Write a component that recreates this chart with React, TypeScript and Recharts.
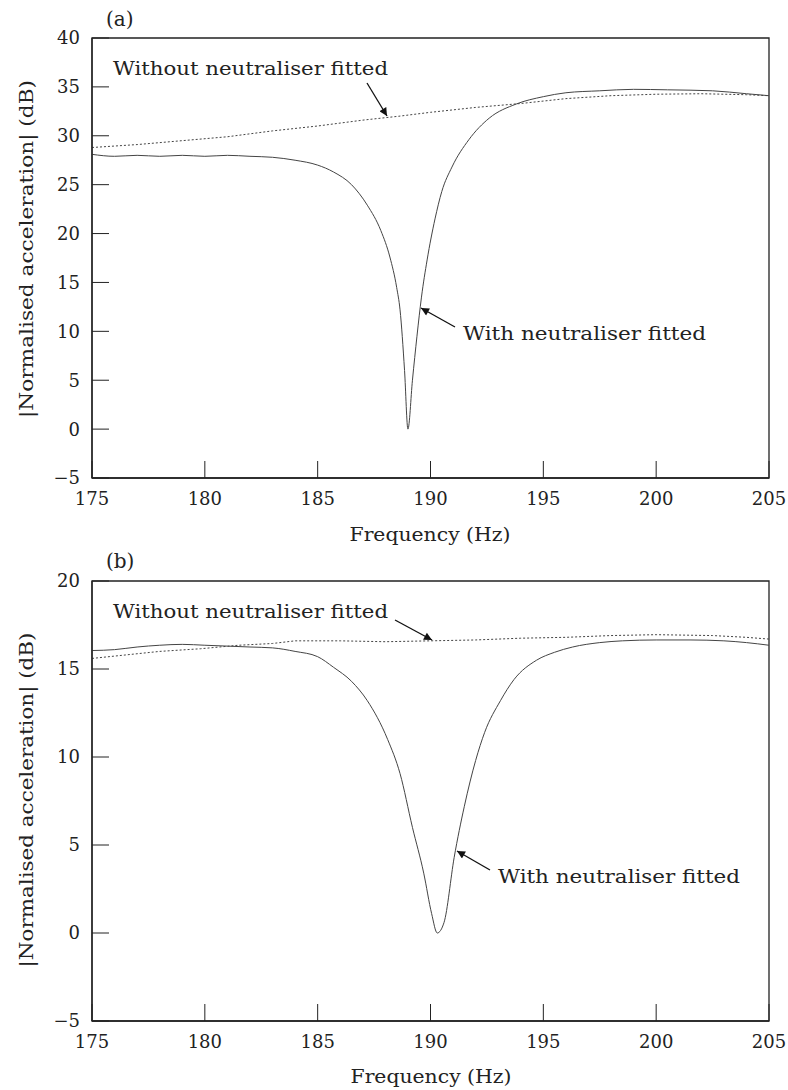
import React from "react";
import { LineChart, Line, XAxis, YAxis, ReferenceArea } from "recharts";

// panel (a) – frequency (Hz) / level (dB)
const withFreqA = [175, 176, 177, 178, 179, 180, 181, 182, 183, 184, 185, 185.7, 186.5, 187.2, 187.8, 188.2, 188.5, 188.65, 188.85, 189.0, 189.2, 189.4, 189.6, 189.85, 190.2, 190.5, 190.95, 191.7, 192.6, 193.8, 195, 196, 197.5, 199, 200.5, 202.5, 204, 205];
const withLevelA = [28.1, 27.9, 28.0, 27.9, 28.0, 27.9, 28.0, 27.9, 27.8, 27.5, 27.0, 26.3, 25.0, 22.9, 20.3, 17.6, 14.5, 12.2, 6.0, 0.0, 5.0, 9.5, 13.5, 17.3, 21.5, 24.3, 26.8, 29.6, 31.8, 33.25, 34.0, 34.4, 34.6, 34.75, 34.7, 34.6, 34.3, 34.1];
const withoutFreqA = [175, 177, 179, 181, 183, 185, 187, 188.6, 190, 192, 194, 196, 198, 200, 202, 204, 205];
const withoutLevelA = [28.8, 29.1, 29.5, 29.9, 30.5, 31.0, 31.6, 32.0, 32.4, 32.9, 33.3, 33.8, 34.1, 34.25, 34.3, 34.2, 34.1];

// panel (b)
const withFreqB = [175, 176, 177, 178, 179, 180, 181, 182, 183, 184, 185, 185.7, 186.5, 187.2, 188.1, 188.65, 189.2, 189.7, 190.05, 190.3, 190.6, 191.05, 191.5, 192.0, 192.4, 193.1, 193.7, 194.7, 195.5, 196.3, 197.5, 198.5, 200, 201.5, 203, 204, 205];
const withLevelB = [16.05, 16.1, 16.25, 16.35, 16.4, 16.35, 16.3, 16.25, 16.2, 16.0, 15.7, 15.1, 14.3, 13.2, 11.0, 9.06, 6.0, 3.4, 1.1, 0.0, 0.6, 4.3, 7.2, 9.8, 11.4, 13.2, 14.4, 15.5, 15.95, 16.25, 16.5, 16.6, 16.65, 16.65, 16.6, 16.5, 16.35];
const withoutFreqB = [175, 176.5, 178, 179.8, 181.5, 183, 184, 186, 188, 190, 192, 194, 196, 198, 200, 202.5, 204, 205];
const withoutLevelB = [15.6, 15.8, 16.0, 16.15, 16.35, 16.45, 16.6, 16.6, 16.55, 16.6, 16.65, 16.75, 16.8, 16.9, 16.95, 16.9, 16.8, 16.7];

const freqTicks = [175, 180, 185, 190, 195, 200, 205];
const levelTicksA = [-5, 0, 5, 10, 15, 20, 25, 30, 35, 40];
const levelTicksB = [-5, 0, 5, 10, 15, 20];

const toPoints = (freq: number[], level: number[]) =>
    freq.map((f, i) => ({ f, v: level[i] }));

const FONT = "DejaVu Serif";
const INK = "#222";
const CURVE = "#444";

const minus = (v: number) => String(v).replace("-", "\u2212");

interface PanelProps {
    withPts: { f: number; v: number }[];
    withoutPts: { f: number; v: number }[];
    levelTicks: number[];
}

const Panel: React.FC<PanelProps> = ({ withPts, withoutPts, levelTicks }) => {
    const yMin = levelTicks[0];
    const yMax = levelTicks[levelTicks.length - 1];
    return (
        <LineChart
            width={788}
            height={543}
            margin={{ top: 38, right: 19, left: 0, bottom: 35 }}
        >
            <XAxis
                dataKey="f"
                type="number"
                domain={[175, 205]}
                ticks={freqTicks}
                allowDataOverflow
                height={30}
                tickSize={-17}
                tickMargin={31}
                axisLine={{ stroke: INK, strokeWidth: 1.3 }}
                tickLine={{ stroke: INK, strokeWidth: 1 }}
                tick={{ fontSize: 18, fill: INK, fontFamily: FONT }}
            />
            <YAxis
                dataKey="v"
                type="number"
                domain={[yMin, yMax]}
                ticks={levelTicks}
                allowDataOverflow
                width={92}
                tickSize={-17}
                tickMargin={29}
                tickFormatter={minus}
                axisLine={{ stroke: INK, strokeWidth: 1.3 }}
                tickLine={{ stroke: INK, strokeWidth: 1 }}
                tick={{ fontSize: 18, fill: INK, fontFamily: FONT }}
            />
            <ReferenceArea x1={175} x2={205} y1={yMin} y2={yMax} fill="none" stroke={INK} strokeWidth={1.3} />
            <Line
                data={withoutPts}
                dataKey="v"
                type="linear"
                stroke={CURVE}
                strokeWidth={1}
                strokeDasharray="2 2"
                dot={false}
                isAnimationActive={false}
            />
            <Line
                data={withPts}
                dataKey="v"
                type="monotone"
                stroke={CURVE}
                strokeWidth={1}
                dot={false}
                isAnimationActive={false}
            />
        </LineChart>
    );
};

const txt = { fontFamily: FONT, fontSize: 18, fill: INK } as const;

export default function App() {
    return (
        <div style={{ position: "absolute", left: 0, top: 0, width: 788, height: 1090, background: "#fff" }}>
            <div style={{ position: "absolute", left: 0, top: 0 }}>
                <Panel withPts={toPoints(withFreqA, withLevelA)} withoutPts={toPoints(withoutFreqA, withoutLevelA)} levelTicks={levelTicksA} />
            </div>
            <div style={{ position: "absolute", left: 0, top: 543 }}>
                <Panel withPts={toPoints(withFreqB, withLevelB)} withoutPts={toPoints(withoutFreqB, withoutLevelB)} levelTicks={levelTicksB} />
            </div>
            <svg width={788} height={1090} style={{ position: "absolute", left: 0, top: 0, pointerEvents: "none" }}>
                <defs>
                    <marker id="head" viewBox="0 0 10 10" refX="10" refY="5" markerWidth="11" markerHeight="8" markerUnits="userSpaceOnUse" orient="auto">
                        <path d="M0,0 L10,5 L0,10 z" fill="#111" />
                    </marker>
                </defs>

                {/* panel (a) */}
                <text x={106} y={26} {...txt} fontSize={20}>(a)</text>
                <text x={113} y={75} {...txt} textLength={275} lengthAdjust="spacingAndGlyphs">Without neutraliser fitted</text>
                <line x1={367} y1={83} x2={387} y2={116} stroke="#111" strokeWidth={1.3} markerEnd="url(#head)" />
                <text x={463} y={340} {...txt} textLength={243} lengthAdjust="spacingAndGlyphs">With neutraliser fitted</text>
                <line x1={455} y1={327} x2={421} y2={308} stroke="#111" strokeWidth={1.3} markerEnd="url(#head)" />
                <text x={430} y={541} {...txt} textAnchor="middle" textLength={161} lengthAdjust="spacingAndGlyphs">Frequency (Hz)</text>
                <text transform="translate(33,249) rotate(-90)" {...txt} textAnchor="middle" textLength={338} lengthAdjust="spacingAndGlyphs">|Normalised acceleration| (dB)</text>

                {/* panel (b) */}
                <text x={106} y={568} {...txt} fontSize={20}>(b)</text>
                <text x={113} y={618} {...txt} textLength={275} lengthAdjust="spacingAndGlyphs">Without neutraliser fitted</text>
                <line x1={395} y1={620} x2={432} y2={640} stroke="#111" strokeWidth={1.3} markerEnd="url(#head)" />
                <text x={498} y={883} {...txt} textLength={242} lengthAdjust="spacingAndGlyphs">With neutraliser fitted</text>
                <line x1={490} y1={870} x2={457} y2={851} stroke="#111" strokeWidth={1.3} markerEnd="url(#head)" />
                <text x={431} y={1083} {...txt} textAnchor="middle" textLength={161} lengthAdjust="spacingAndGlyphs">Frequency (Hz)</text>
                <text transform="translate(33,800) rotate(-90)" {...txt} textAnchor="middle" textLength={335} lengthAdjust="spacingAndGlyphs">|Normalised acceleration| (dB)</text>
            </svg>
        </div>
    );
}
